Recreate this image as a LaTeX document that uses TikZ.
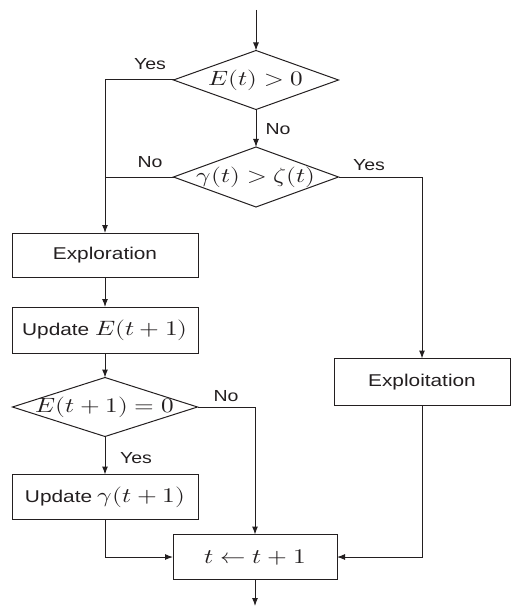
\documentclass[tikz,border=0pt]{standalone}
\usepackage{fontspec}
\usepackage{unicode-math}
\setmainfont{Liberation Sans}
\setmathfont{Latin Modern Math}
\usetikzlibrary{shapes.geometric,arrows.meta}
\definecolor{ink}{RGB}{35,31,32}
\newcommand{\widetxt}[1]{\scalebox{1.22}[1]{#1}}
\newcommand{\bigmath}[1]{{\fontsize{15.6}{17}\selectfont$#1$}}
\begin{document}
\begin{tikzpicture}[x=0.75pt,y=-0.75pt,
  ln/.style={draw=ink,line width=0.75pt},
  arr/.style={ln,-{Latex[length=6pt,width=4.5pt]}},
  boxn/.style={draw=ink,line width=0.75pt,rectangle,inner sep=0pt,outer sep=0pt,font=\fontsize{12.8}{14}\selectfont,text=ink},
  dia/.style={draw=ink,line width=0.75pt,diamond,inner sep=0pt,outer sep=0pt},
  dtext/.style={font=\fontsize{15.5}{17}\selectfont,text=ink,inner sep=0pt},
  lbl/.style={font=\fontsize{12}{14}\selectfont,text=ink,inner sep=0pt}]
\useasboundingbox (0,0) rectangle (512,606);
\coordinate (start) at (256,10);
\coordinate (finish) at (255,606);
\node[dia,minimum width=123.75pt,minimum height=44.25pt] (d1) at (256,80) {};
\node[dtext] at (d1) {\widetxt{$E(t)>0$}};
\node[dia,minimum width=123.75pt,minimum height=45pt] (d2) at (256,177) {};
\node[dtext] at (d2) {\widetxt{$\gamma(t)>\zeta(t)$}};
\node[boxn,minimum width=139.5pt,minimum height=33pt] (explo) at (105,255) {\widetxt{Exploration}};
\node[boxn,minimum width=139.5pt,minimum height=34.5pt] (updE) at (105,330) {\widetxt{Update \bigmath{E(t+1)}}};
\node[dia,minimum width=138.75pt,minimum height=44.25pt] (d3) at (105,407) {};
\node[dtext] at (d3) {\widetxt{$E(t+1)=0$}};
\node[boxn,minimum width=139.5pt,minimum height=33.75pt] (updG) at (105,497) {\widetxt{Update \bigmath{\gamma(t+1)}}};
\node[boxn,minimum width=123pt,minimum height=33.75pt] (tt) at (255,557) {\widetxt{\bigmath{t\leftarrow t+1}}};
\node[boxn,minimum width=132pt,minimum height=35.25pt] (exploit) at (422,382) {\widetxt{Exploitation}};
\draw[arr] (start) -- (d1.north);
\draw[arr] (d1.west) -| (explo.north);
\draw[ln] (d2.west) -- (d2.west -| explo.north);
\draw[arr] (d1.south) -- (d2.north);
\draw[arr] (d2.east) -| (exploit.north);
\draw[arr] (explo.south) -- (updE.north);
\draw[arr] (updE.south) -- (d3.north);
\draw[arr] (d3.east) -| (tt.north);
\draw[arr] (d3.south) -- (updG.north);
\draw[arr] (updG.south) |- (tt.west);
\draw[arr] (exploit.south) |- (tt.east);
\draw[arr] (tt.south) -- (finish);
\node[lbl] at (150,64) {\widetxt{Yes}};
\node[lbl] at (278,129) {\widetxt{No}};
\node[lbl] at (150,162) {\widetxt{No}};
\node[lbl] at (369,165) {\widetxt{Yes}};
\node[lbl] at (226,396) {\widetxt{No}};
\node[lbl] at (136,458) {\widetxt{Yes}};
\end{tikzpicture}
\end{document}
